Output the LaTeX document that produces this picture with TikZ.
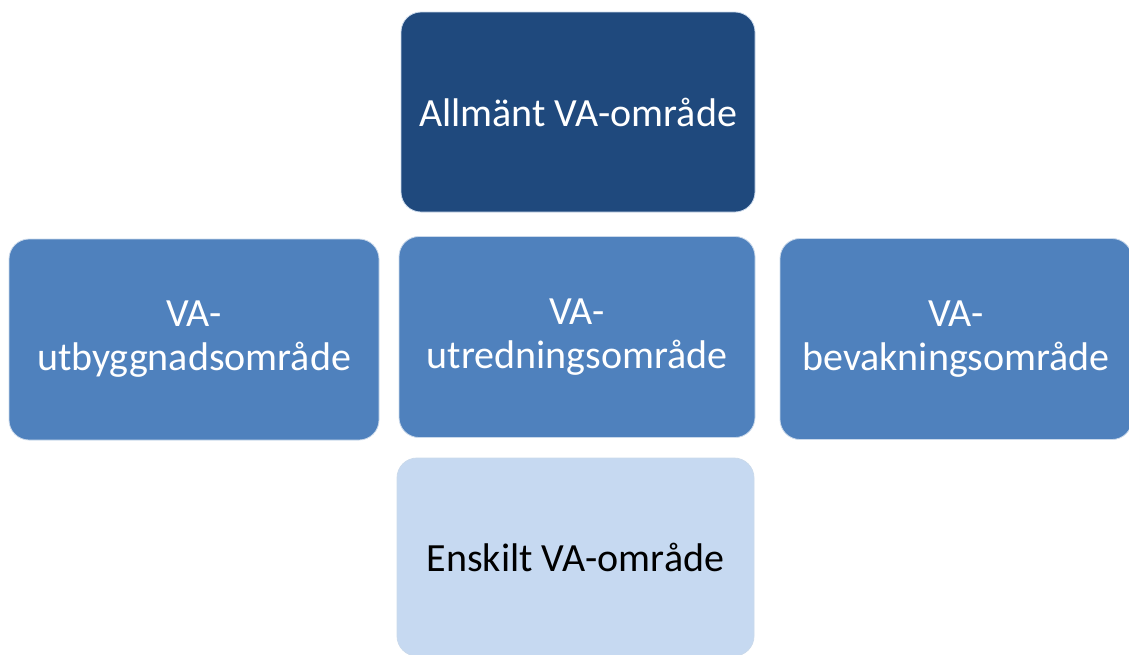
\documentclass[tikz,border=0pt]{standalone}
\usepackage{fontspec}
\setmainfont{Carlito}
\usetikzlibrary{positioning}
\definecolor{vadark}{HTML}{1F497D}
\definecolor{vamid}{HTML}{4F81BD}
\definecolor{valight}{HTML}{C6D9F1}

\begin{document}
\begin{tikzpicture}[x=1pt,y=-1pt]
  \tikzstyle{area}=[rectangle,rounded corners=20pt,draw=white!70!vamid,line width=0.8pt,
    align=center,inner sep=0pt,font=\fontsize{40}{44}\selectfont]
  \tikzstyle{topbox}=[area,fill=vadark,text=white,minimum width=354pt,minimum height=200pt]
  \tikzstyle{midbox}=[area,fill=vamid,text=white,minimum height=201pt]
  \tikzstyle{lowbox}=[area,fill=valight,text=black,minimum width=357pt,minimum height=198pt]
  \useasboundingbox (0,0) rectangle (1129,654);
  \node[topbox] (allmant) at (578,112) {Allmänt VA-område};
  \node[midbox,minimum width=370pt] (utbygg) at (194,339.5) {VA-\\utbyggnadsområde};
  \node[midbox,minimum width=356pt] (utred) at (577,337) {VA-\\utredningsområde};
  \node[midbox,minimum width=352pt] (bevak) at (956,339) {VA-\\bevakningsområde};
  \node[lowbox] (enskilt) at (575.5,557) {Enskilt VA-område};
\end{tikzpicture}
\end{document}
